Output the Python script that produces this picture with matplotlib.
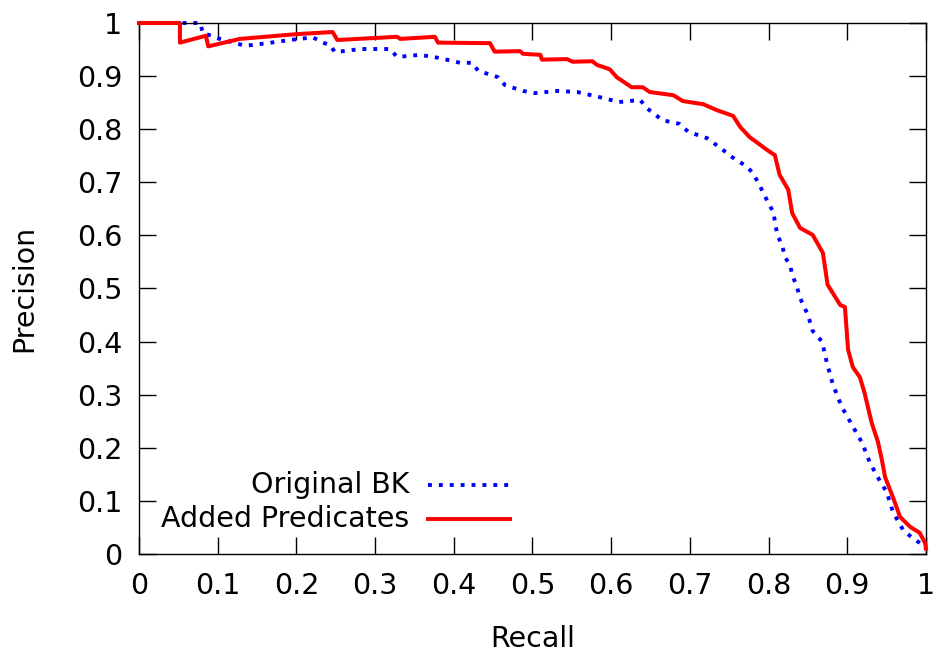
import matplotlib

matplotlib.use("Agg")
import matplotlib.pyplot as plt  # noqa: E402

# precision/recall points (gnuplot-style PR curves)
recall_bk = [0, 0.078, 0.081, 0.094, 0.103, 0.135, 0.163, 0.192, 0.221, 0.232, 0.243, 0.249,
             0.281, 0.319, 0.328, 0.357, 0.382, 0.408, 0.423, 0.431, 0.456, 0.465, 0.488, 0.503,
             0.531, 0.557, 0.595, 0.609, 0.637, 0.645, 0.665, 0.687, 0.698, 0.722, 0.742, 0.753,
             0.773, 0.780, 0.787, 0.799, 0.806, 0.811, 0.817, 0.821, 0.827, 0.831, 0.836, 0.840,
             0.850, 0.856, 0.868, 0.874, 0.882, 0.893, 0.906, 0.919, 0.929, 0.942, 0.950, 0.958,
             0.971, 0.983, 0.996, 1.0]
precision_bk = [1, 1, 0.981, 0.975, 0.970, 0.957, 0.962, 0.968, 0.973, 0.964, 0.958, 0.945,
                0.951, 0.951, 0.936, 0.940, 0.934, 0.925, 0.925, 0.910, 0.898, 0.883, 0.872, 0.868,
                0.872, 0.870, 0.857, 0.851, 0.855, 0.840, 0.817, 0.810, 0.795, 0.783, 0.761, 0.748,
                0.729, 0.717, 0.699, 0.663, 0.644, 0.601, 0.582, 0.559, 0.544, 0.522, 0.503, 0.482,
                0.450, 0.420, 0.400, 0.360, 0.318, 0.277, 0.243, 0.209, 0.171, 0.136, 0.117, 0.079,
                0.045, 0.030, 0.017, 0.010]

recall_pred = [0, 0.052, 0.052, 0.085, 0.088, 0.128, 0.20, 0.246, 0.252, 0.328, 0.332, 0.376,
               0.380, 0.446, 0.452, 0.484, 0.488, 0.51, 0.512, 0.544, 0.551, 0.576, 0.582, 0.598,
               0.607, 0.626, 0.640, 0.649, 0.679, 0.691, 0.717, 0.734, 0.755, 0.764, 0.776, 0.798,
               0.808, 0.814, 0.825, 0.830, 0.840, 0.856, 0.869, 0.875, 0.891, 0.897, 0.901, 0.907,
               0.916, 0.922, 0.931, 0.939, 0.944, 0.948, 0.958, 0.967, 0.980, 0.992, 0.999, 1.0]
precision_pred = [1, 1, 0.963, 0.976, 0.956, 0.970, 0.979, 0.983, 0.968, 0.974, 0.970, 0.974,
                  0.963, 0.962, 0.946, 0.947, 0.942, 0.940, 0.931, 0.932, 0.927, 0.928, 0.921, 0.913,
                  0.898, 0.879, 0.879, 0.870, 0.864, 0.853, 0.847, 0.836, 0.825, 0.804, 0.785, 0.761,
                  0.751, 0.714, 0.686, 0.642, 0.614, 0.601, 0.567, 0.507, 0.469, 0.465, 0.385, 0.352,
                  0.333, 0.303, 0.247, 0.211, 0.177, 0.145, 0.107, 0.070, 0.051, 0.040, 0.020, 0.010]

ticks = [0, 0.1, 0.2, 0.3, 0.4, 0.5, 0.6, 0.7, 0.8, 0.9, 1]
tick_labels = ["0", "0.1", "0.2", "0.3", "0.4", "0.5", "0.6", "0.7", "0.8", "0.9", "1"]

BLUE = "#0000ff"
RED = "#ff0000"
DOTS = (0, (1, 1.8))
FS = 20.5

fig = plt.figure(figsize=(9.36, 6.55), dpi=100)
ax = fig.add_axes([0.1485, 0.1542, 0.8408, 0.8107])

ax.plot(recall_bk, precision_bk, color=BLUE, lw=2.8, ls=DOTS, dash_capstyle="butt", clip_on=False)
ax.plot(recall_pred, precision_pred, color=RED, lw=2.9, clip_on=False, zorder=3)

ax.set_xlim(0, 1)
ax.set_ylim(0, 1)
ax.set_xticks(ticks)
ax.set_xticklabels(tick_labels)
ax.set_yticks(ticks)
ax.set_yticklabels(tick_labels)
ax.tick_params(direction="in", length=12, width=1, top=True, right=True, labelsize=FS)
ax.tick_params(axis="x", pad=13)
ax.tick_params(axis="y", pad=12)
for s in ax.spines.values():
    s.set_linewidth(1)

ax.set_xlabel("Recall", fontsize=FS, labelpad=18)
ax.set_ylabel("Precision", fontsize=FS, labelpad=28)

# gnuplot-style key: right-aligned text with the sample to its right
key = [("Original BK", BLUE, DOTS, 0.130), ("Added Predicates", RED, "-", 0.066)]
for label, col, ls, yk in key:
    ax.text(0.344, yk, label, transform=ax.transAxes, ha="right", va="center", fontsize=FS)
    ax.plot([0.367, 0.471], [yk, yk], transform=ax.transAxes, color=col, ls=ls,
            lw=2.8, dash_capstyle="butt")

fig.savefig("out.png", dpi=100)
